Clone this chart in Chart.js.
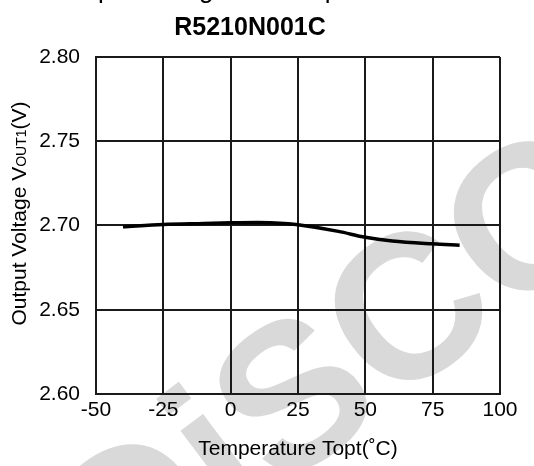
<!DOCTYPE html>
<html>
<head>
<meta charset="utf-8">
<script src="https://cdn.jsdelivr.net/npm/chart.js@4"></script>
<style>
  html, body { margin: 0; padding: 0; background: #fff; }
  #wrap { width: 534px; height: 466px; position: relative; }
</style>
</head>
<body>
<div id="wrap"><canvas id="c" width="534" height="466"></canvas></div>
<script>
// ---- data ----
const temperatures = [-40, -25, -10, 0, 10, 20, 25, 40, 50, 60, 75, 85];
const voutValues   = [2.6993, 2.7006, 2.7012, 2.7016, 2.7018, 2.7012, 2.7004, 2.6965, 2.6930, 2.6908, 2.6891, 2.6883];
const xTicks = [-50, -25, 0, 25, 50, 75, 100];
const yTicks = [2.60, 2.65, 2.70, 2.75, 2.80];
const titleText = 'R5210N001C';
const topLineText = 'Output Voltage vs. Temperature';
const xTitleText = 'Temperature Topt(\u02DAC)';
const yTitleParts = ['Output Voltage V', 'OUT1', '(V)'];
const watermarkText = 'DiSCONTINUED';

const FONT = '"Liberation Sans", Arial, sans-serif';

const points = temperatures.map((t, i) => ({ x: t, y: voutValues[i] }));

const bgPlugin = {
  id: 'bgWatermark',
  beforeDraw(chart) {
    const ctx = chart.ctx;
    ctx.save();
    ctx.fillStyle = '#ffffff';
    ctx.fillRect(0, 0, chart.width, chart.height);
    ctx.translate(116, 615);
    ctx.rotate(-37 * Math.PI / 180);
    ctx.fillStyle = '#d9d9d9';
    ctx.font = 'bold 205px ' + FONT;
    ctx.textBaseline = 'alphabetic';
    ctx.textAlign = 'left';
    ctx.fillText(watermarkText, 0, 0);
    ctx.restore();
  },
  afterDraw(chart) {
    const ctx = chart.ctx;
    ctx.save();
    // top (cut-off) caption line
    ctx.fillStyle = '#000';
    ctx.font = '26px ' + FONT;
    ctx.textAlign = 'left';
    ctx.textBaseline = 'alphabetic';
    ctx.fillText(topLineText, 56, -2.5);
    // y axis title with small OUT1
    const big = '21px ' + FONT, small = '14px ' + FONT;
    ctx.font = big; const w1 = ctx.measureText(yTitleParts[0]).width;
    const w3 = ctx.measureText(yTitleParts[2]).width;
    ctx.font = small; const w2 = ctx.measureText(yTitleParts[1]).width;
    const total = w1 + w2 + w3;
    ctx.translate(25.5, 213.5);
    ctx.rotate(-Math.PI / 2);
    let x = -total / 2;
    ctx.font = big; ctx.fillText(yTitleParts[0], x, 0); x += w1;
    ctx.font = small; ctx.fillText(yTitleParts[1], x, 0); x += w2;
    ctx.font = big; ctx.fillText(yTitleParts[2], x, 0);
    ctx.restore();
  }
};

new Chart(document.getElementById('c'), {
  type: 'line',
  data: {
    datasets: [{
      data: points,
      borderColor: '#000',
      borderWidth: 3.5,
      pointRadius: 0,
      fill: false,
      tension: 0.4,
      cubicInterpolationMode: 'monotone'
    }]
  },
  options: {
    responsive: false,
    animation: false,
    devicePixelRatio: 1,
    layout: { padding: { left: 0, right: 34, top: 0, bottom: 0 } },
    plugins: {
      legend: { display: false },
      tooltip: { enabled: false },
      title: {
        display: true,
        text: titleText,
        color: '#000',
        font: { family: FONT, size: 25, weight: 'bold' },
        padding: { top: 13, bottom: 14 }
      }
    },
    scales: {
      x: {
        type: 'linear',
        min: -50, max: 100,
        afterBuildTicks(scale) { scale.ticks = xTicks.map(v => ({ value: v })); },
        afterFit(scale) { scale.height = 72; },
        grid: { color: '#1a1a1a', lineWidth: 2, drawTicks: false },
        border: { color: '#1a1a1a', width: 2 },
        ticks: {
          color: '#000', padding: 4,
          font: { family: FONT, size: 21 },
          maxRotation: 0, autoSkip: false,
          callback: v => String(v)
        },
        title: {
          display: true, text: xTitleText, color: '#000',
          font: { family: FONT, size: 21 },
          padding: { top: 0, bottom: 4.4 }
        }
      },
      y: {
        type: 'linear',
        min: 2.60, max: 2.80,
        afterBuildTicks(scale) { scale.ticks = yTicks.map(v => ({ value: v })); },
        afterFit(scale) { scale.width = 96; },
        grid: { color: '#1a1a1a', lineWidth: 2, drawTicks: false },
        border: { color: '#1a1a1a', width: 2 },
        ticks: {
          color: '#000', padding: 16,
          font: { family: FONT, size: 21 },
          autoSkip: false,
          callback: v => Number(v).toFixed(2)
        }
      }
    }
  },
  plugins: [bgPlugin]
});
</script>
</body>
</html>
